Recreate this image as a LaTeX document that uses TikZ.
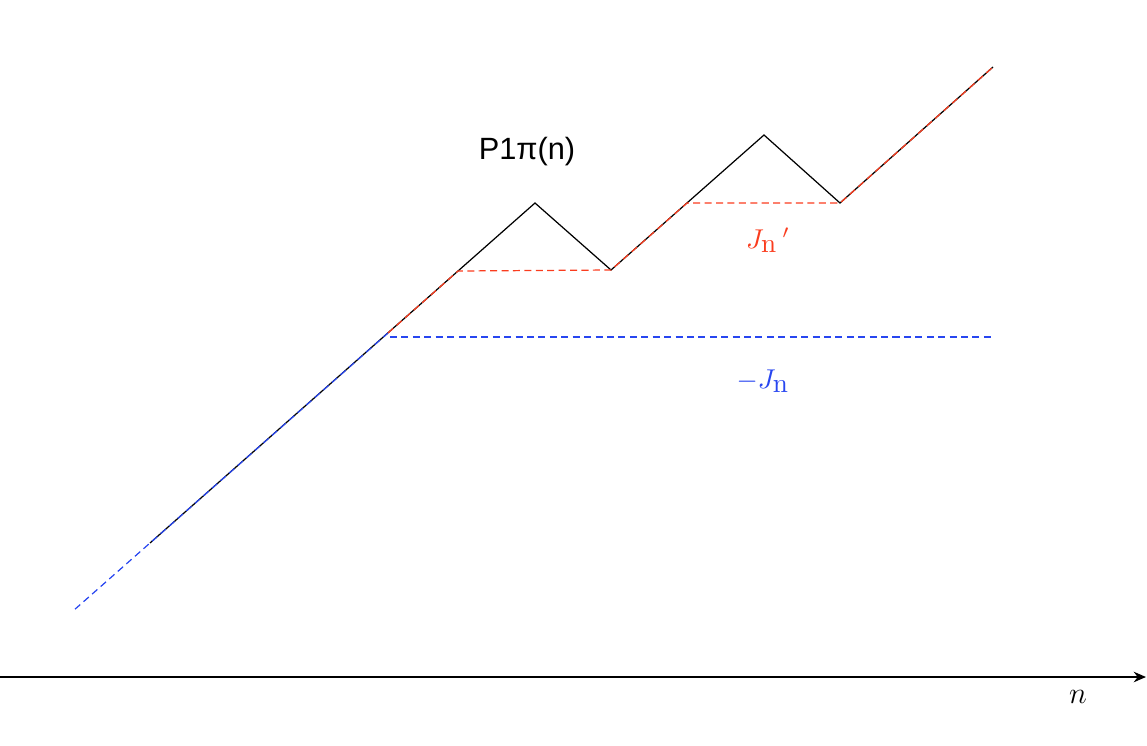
\documentclass[tikz,border=0pt]{standalone}
\usepackage{fontspec}
\setmainfont{Latin Modern Roman}
\newfontfamily\labelsans{Liberation Sans}
\usetikzlibrary{arrows.meta}
\definecolor{myred}{RGB}{250,60,30}
\definecolor{myblue}{RGB}{40,70,240}
\tikzset{
  pathline/.style={line width=0.7pt, black},
  reddash/.style={line width=0.7pt, myred, dash pattern=on 4pt off 2.5pt},
  bluedash/.style={line width=0.7pt, myblue, dash pattern=on 4pt off 2.5pt},
  axisline/.style={line width=0.8pt, -{Stealth[length=7pt,width=6pt]}},
}
\begin{document}
\begin{tikzpicture}[x=0.02cm,y=-0.02cm]
\useasboundingbox (0,0) rectangle (1147,745);
% coordinates
\coordinate (s) at (150,543);
\coordinate (p1) at (535,203);
\coordinate (v1) at (611,270);
\coordinate (p2) at (764,135);
\coordinate (v2) at (840,203);
\coordinate (e) at (993,67);
\coordinate (b0) at (75,609.2);
\coordinate (b1) at (388,333);
\coordinate (h1) at (390,337);
\coordinate (b2) at (993,337);
\coordinate (r1) at (458,271);
\coordinate (r2) at (687,203);
\coordinate (a0) at (0,677);
\coordinate (a1) at (1146,677);
% black path
\draw[pathline] (s) -- (p1) -- (v1) -- (p2) -- (v2) -- (e);
% blue dashed
\draw[bluedash] (b0) -- (b1);
\draw[bluedash] (h1) -- (b2);
% red dashed
\draw[reddash] (b1) -- (r1) -- (v1) -- (r2) -- (v2) -- (e);
% axis
\draw[axisline] (a0) -- (a1);
% labels
\node (lp) at (527,152) {\labelsans\fontsize{17.5pt}{21pt}\selectfont P1π(n)};
\node[text=myred] (lj1) at (768,240) {\scalebox{1.55}{$J_{\textstyle\mathrm{n}}\,'$}};
\node[text=myblue] (lj2) at (763,381) {\scalebox{1.55}{$-J_{\textstyle\mathrm{n}}$}};
\node (ln) at (1078,697) {\fontsize{16pt}{18pt}\selectfont $n$};
\end{tikzpicture}
\end{document}
